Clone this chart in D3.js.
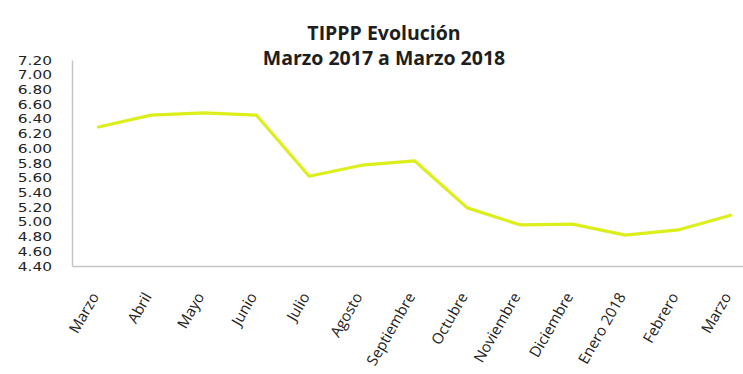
<!DOCTYPE html>
<html>
<head>
<meta charset="utf-8">
<script src="https://cdn.jsdelivr.net/npm/d3@7"></script>
<style>
  html, body { margin: 0; padding: 0; background: #fff; }
  svg { display: block; }
</style>
</head>
<body>
<svg id="chart" width="743" height="374"></svg>
<script>
// TIPPP monthly values, March 2017 – March 2018
const months = ["Marzo", "Abril", "Mayo", "Junio", "Julio", "Agosto", "Septiembre",
                "Octubre", "Noviembre", "Diciembre", "Enero 2018", "Febrero", "Marzo"];
const tippp = [6.29, 6.45, 6.48, 6.45, 5.62, 5.77, 5.83, 5.19, 4.96, 4.97, 4.82, 4.89, 5.09];
const yTicks = [4.40, 4.60, 4.80, 5.00, 5.20, 5.40, 5.60, 5.80, 6.00, 6.20, 6.40, 6.60, 6.80, 7.00, 7.20];
const titleLines = ["TIPPP Evolución", "Marzo 2017 a Marzo 2018"];

const svg = d3.select("#chart");
const m = { left: 72, top: 60, right: 757, bottom: 266 };

const x = d3.scalePoint()
  .domain(d3.range(months.length))
  .range([m.left, m.right])
  .padding(0.5);

const y = d3.scaleLinear()
  .domain([4.40, 7.20])
  .range([m.bottom, m.top]);

// Title
svg.append("g")
  .selectAll("text")
  .data(titleLines)
  .join("text")
  .attr("x", 384)
  .attr("y", (d, i) => 40 + i * 25)
  .attr("text-anchor", "middle")
  .attr("font-family", "'Open Sans', sans-serif")
  .attr("font-weight", "bold")
  .attr("font-size", 19.5)
  .attr("fill", "#1e1e1e")
  .text(d => d);

// Y axis (labels only, plus the plot's left edge)
const yAxis = d3.axisLeft(y)
  .tickValues(yTicks)
  .tickSize(0)
  .tickPadding(20)
  .tickFormat(d3.format(".2f"));

const gy = svg.append("g")
  .attr("transform", `translate(${m.left},0)`)
  .call(yAxis);
gy.select(".domain").attr("stroke", "#c4c4c4").attr("stroke-width", 1.5);
// Tightly stacked labels: a compact font widened horizontally
const widen = 1.22;
gy.selectAll("text")
  .attr("font-family", "'DejaVu Sans', sans-serif")
  .attr("font-size", 12.6)
  .attr("fill", "#222")
  .attr("x", -20 / widen)
  .attr("transform", `scale(${widen},1)`);

// X axis with rotated month labels
const xAxis = d3.axisBottom(x)
  .tickSize(0)
  .tickFormat(i => months[i]);

const gx = svg.append("g")
  .attr("transform", `translate(0,${m.bottom})`)
  .call(xAxis);
gx.select(".domain").attr("stroke", "#c4c4c4").attr("stroke-width", 1.5);
gx.selectAll("text")
  .attr("font-family", "'Open Sans', sans-serif")
  .attr("font-size", 15)
  .attr("fill", "#222")
  .attr("text-anchor", "end")
  .attr("dy", 0)
  .attr("transform", "translate(-2,29) rotate(-60)");

// Series line
const line = d3.line()
  .x((d, i) => x(i))
  .y(d => y(d));

svg.append("path")
  .datum(tippp)
  .attr("fill", "none")
  .attr("stroke", "#dcee1c")
  .attr("stroke-width", 3.2)
  .attr("stroke-linejoin", "round")
  .attr("stroke-linecap", "round")
  .attr("d", line);
</script>
</body>
</html>
